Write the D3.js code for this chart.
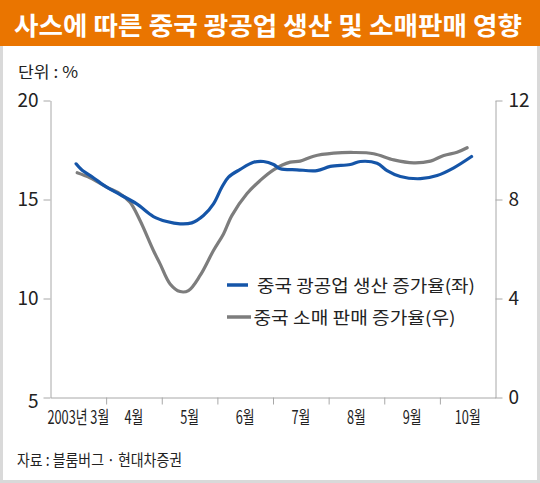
<!DOCTYPE html>
<html>
<head>
<meta charset="utf-8">
<script src="https://cdn.jsdelivr.net/npm/d3@7"></script>
<style>
  html, body { margin: 0; padding: 0; background: #fff; }
  svg { display: block; }
</style>
</head>
<body>
<div id="chart"></div>
<script>
// ---------- data ----------
const titleText = "사스에 따른 중국 광공업 생산 및 소매판매 영향";
const unitText = "단위 : %";
const sourceText = "자료 : 블룸버그 · 현대차증권";
const monthLabels = ["2003년 3월", "4월", "5월", "6월", "7월", "8월", "9월", "10월"];
const leftTicks = [5, 10, 15, 20];
const rightTicks = [0, 4, 8, 12];
const seriesNames = ["중국 광공업 생산 증가율(좌)", "중국 소매 판매 증가율(우)"];

// industrial production (left axis), x = month position (3 = start of March)
const indMonths = [3.46, 3.56, 3.77, 4.01, 4.25, 4.55, 4.85, 5.09, 5.33, 5.54, 5.75, 5.93, 6.08, 6.20, 6.41, 6.65, 6.83, 7.01, 7.13, 7.43, 7.79, 8.03, 8.39, 8.57, 8.87, 9.05, 9.29, 9.65, 9.95, 10.25, 10.57];
const indValues = [16.80, 16.50, 16.10, 15.62, 15.25, 14.78, 14.14, 13.89, 13.77, 13.82, 14.19, 14.78, 15.62, 16.13, 16.52, 16.88, 16.92, 16.77, 16.55, 16.50, 16.46, 16.67, 16.77, 16.92, 16.83, 16.46, 16.16, 16.05, 16.21, 16.60, 17.17];

// retail sales (right axis)
const retMonths = [3.48, 3.71, 4.01, 4.25, 4.43, 4.61, 4.85, 4.97, 5.15, 5.33, 5.48, 5.69, 5.93, 6.11, 6.26, 6.53, 6.77, 7.01, 7.31, 7.49, 7.73, 8.09, 8.45, 8.81, 9.17, 9.53, 9.83, 10.07, 10.31, 10.49];
const retValues = [9.08, 8.88, 8.50, 8.23, 7.89, 7.15, 5.94, 5.40, 4.59, 4.28, 4.32, 4.93, 5.94, 6.61, 7.35, 8.23, 8.77, 9.20, 9.51, 9.55, 9.75, 9.87, 9.90, 9.85, 9.60, 9.48, 9.55, 9.78, 9.91, 10.09];

// ---------- layout ----------
const W = 540, H = 483;
const plotL = 50.5, plotR = 495.5, plotT = 100.5, plotB = 397.5;
const blue = "#1555a8", gray = "#7d7d7d", axisCol = "#a8a8a8";
const korFont = "'Noto Sans CJK KR', 'Noto Sans', sans-serif";
const numFont = "'Liberation Sans Narrow', 'Noto Sans CJK KR', sans-serif";

const svg = d3.select("#chart").append("svg").attr("width", W).attr("height", H);

// frame + header
svg.append("rect").attr("x", 0).attr("y", 0).attr("width", W).attr("height", H).attr("fill", "#fff");
svg.append("rect").attr("x", 1.5).attr("y", 44).attr("width", W - 3).attr("height", H - 45.5)
  .attr("fill", "#fff").attr("stroke", "#d9d9d9").attr("stroke-width", 3);
svg.append("rect").attr("x", 0).attr("y", 0).attr("width", W).attr("height", 46).attr("fill", "#ea7500");

svg.append("text").attr("x", 14).attr("y", 35)
  .attr("fill", "#fff").attr("font-family", korFont).attr("font-weight", 700)
  .attr("font-size", 25).text(titleText)
  .attr("textLength", 508).attr("lengthAdjust", "spacingAndGlyphs");

svg.append("text").attr("x", 18).attr("y", 78).attr("fill", "#222")
  .attr("font-family", korFont).attr("font-size", 16).text(unitText)
  .attr("textLength", 60).attr("lengthAdjust", "spacingAndGlyphs");

svg.append("text").attr("x", 17).attr("y", 466).attr("fill", "#222")
  .attr("font-family", korFont).attr("font-size", 16).text(sourceText)
  .attr("textLength", 165).attr("lengthAdjust", "spacingAndGlyphs");

// scales
const x = d3.scaleLinear().domain([3, 11]).range([plotL, plotR]);
const yL = d3.scaleLinear().domain([5, 20]).range([plotB, plotT]);
const yR = d3.scaleLinear().domain([0, 12]).range([plotB, plotT]);

function styleAxis(g) {
  g.selectAll("path.domain").attr("stroke", axisCol);
  g.selectAll(".tick line").attr("stroke", axisCol);
  g.selectAll(".tick text").attr("fill", "#222").attr("font-family", numFont).attr("font-size", 19);
}

// left axis
const gL = svg.append("g").attr("transform", `translate(${plotL},0)`)
  .call(d3.axisLeft(yL).tickValues(leftTicks).tickSize(7).tickSizeOuter(0).tickPadding(5));
styleAxis(gL);
gL.selectAll(".tick text").filter(d => d === 5).attr("dy", "0.55em");

// right axis
const gR = svg.append("g").attr("transform", `translate(${plotR},0)`)
  .call(d3.axisRight(yR).tickValues(rightTicks).tickSize(7).tickSizeOuter(0).tickPadding(6));
styleAxis(gR);

// bottom axis (month boundaries)
const gB = svg.append("g").attr("transform", `translate(0,${plotB})`)
  .call(d3.axisBottom(x).tickValues(d3.range(4, 11)).tickSize(7).tickSizeOuter(0).tickFormat(""));
styleAxis(gB);

// month labels centred in each month (condensed face via horizontal scale)
svg.append("g").selectAll("text").data(monthLabels).join("text")
  .attr("transform", (d, i) => `translate(${x(3.5 + i)},424) scale(0.71,1)`)
  .attr("text-anchor", "middle").attr("fill", "#222")
  .attr("font-family", numFont).attr("font-size", 18).text(d => d);

// lines
const indData = indMonths.map((m, i) => ({ m, v: indValues[i] }));
const retData = retMonths.map((m, i) => ({ m, v: retValues[i] }));

const lineL = d3.line().x(d => x(d.m)).y(d => yL(d.v)).curve(d3.curveCatmullRom.alpha(0.5));
const lineR = d3.line().x(d => x(d.m)).y(d => yR(d.v)).curve(d3.curveCatmullRom.alpha(0.5));

svg.append("path").datum(retData).attr("d", lineR)
  .attr("fill", "none").attr("stroke", gray).attr("stroke-width", 3.2).attr("stroke-linecap", "round");
svg.append("path").datum(indData).attr("d", lineL)
  .attr("fill", "none").attr("stroke", blue).attr("stroke-width", 3.2).attr("stroke-linecap", "round");

// legend
const legend = [
  { name: seriesNames[0], color: blue, y: 285, x1: 227, x2: 248, tx: 257, tl: 218 },
  { name: seriesNames[1], color: gray, y: 317, x1: 227, x2: 251, tx: 253.5, tl: 202 }
];
const lg = svg.append("g").selectAll("g").data(legend).join("g");
lg.append("line").attr("x1", d => d.x1).attr("x2", d => d.x2).attr("y1", d => d.y).attr("y2", d => d.y)
  .attr("stroke", d => d.color).attr("stroke-width", 3.5);
lg.append("text").attr("x", d => d.tx).attr("y", d => d.y + 6.5)
  .attr("fill", "#222").attr("font-family", korFont).attr("font-size", 17)
  .text(d => d.name).attr("textLength", d => d.tl).attr("lengthAdjust", "spacingAndGlyphs");
</script>
</body>
</html>
